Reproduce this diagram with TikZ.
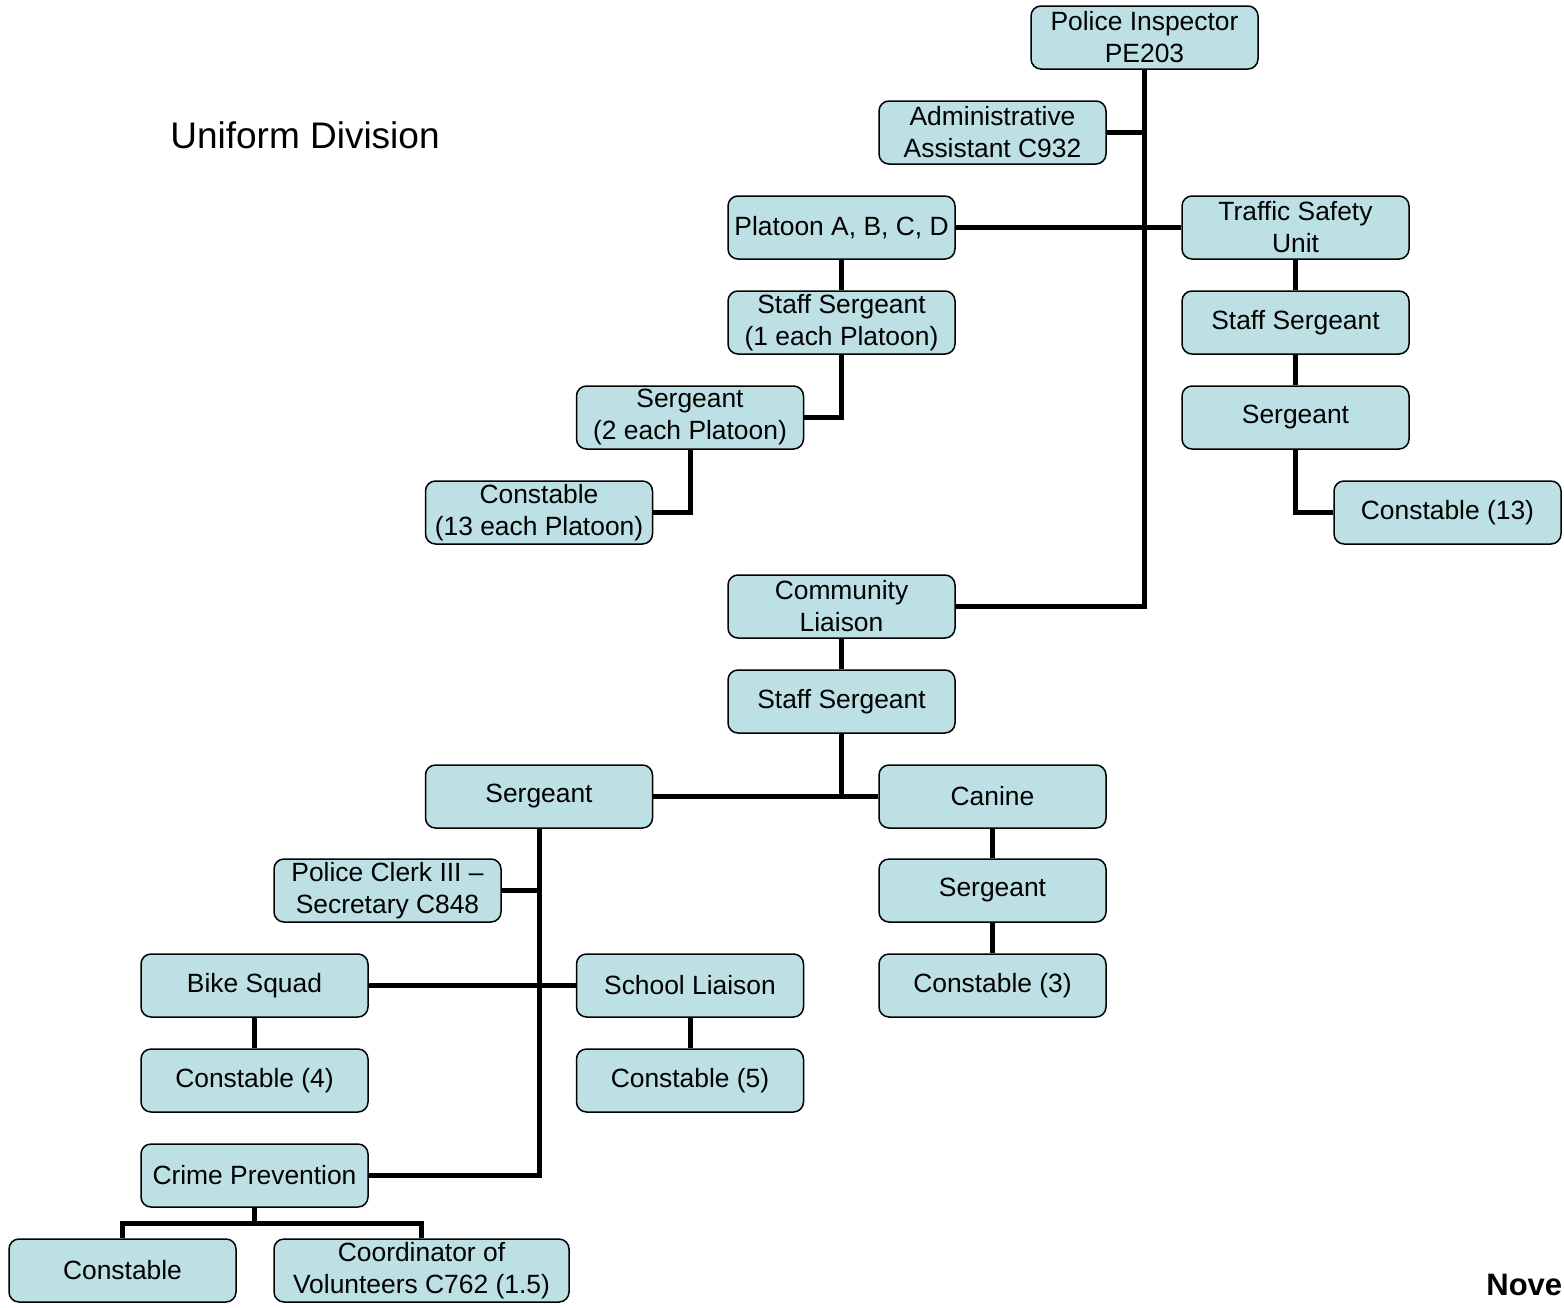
\documentclass[tikz,border=0pt]{standalone}
\usepackage{fontspec}
\setmainfont{Liberation Sans}
\definecolor{boxblue}{RGB}{188,224,228}
\begin{document}
\begin{tikzpicture}[x=0.5pt,y=-0.5pt,
  post/.style={draw=black,line width=0.75pt,fill=boxblue,rounded corners=5pt,
    minimum width=113.5pt,minimum height=31.5pt,inner sep=1pt,align=center,
    font=\fontsize{13.2}{16}\selectfont},
  link/.style={line width=2.5pt}]
\useasboundingbox (0,0) rectangle (1564,1307);
% top of the division
\node[post] (insp) at (1144.5,37.5) {Police Inspector\\PE203};
\node[post] (admin) at (992.5,132.5) {Administrative\\Assistant C932};
\node[post] (plat) at (841.5,227.5) {Platoon A, B, C, D};
\node[post] (traf) at (1295.5,227.5) {Traffic Safety\\Unit};
% platoons
\node[post] (plss) at (841.5,322.5) {Staff Sergeant\\(1 each Platoon)};
\node[post] (plsg) at (690,417.5) {Sergeant\\(2 each Platoon)};
\node[post] (plco) at (539,512.5) {Constable\\(13 each Platoon)};
% traffic
\node[post] (trss) at (1295.5,322.5) {Staff Sergeant};
\node[post] (trsg) at (1295.5,417.5) {Sergeant};
\node[post] (trco) at (1447.5,512.5) {Constable (13)};
% community
\node[post] (comm) at (841.5,606.5) {Community\\Liaison};
\node[post] (coss) at (841.5,701.5) {Staff Sergeant};
\node[post] (cosg) at (539,796.5) {Sergeant};
\node[post] (cani) at (992.5,796.5) {Canine};
\node[post] (casg) at (992.5,890.5) {Sergeant};
\node[post] (caco) at (992.5,985.5) {Constable (3)};
\node[post] (clerk) at (387.5,890.5) {Police Clerk III --\\Secretary C848};
\node[post] (bike) at (254.5,985.5) {Bike Squad};
\node[post] (scho) at (690,985.5) {School Liaison};
\node[post] (bico) at (254.5,1080.5) {Constable (4)};
\node[post] (scco) at (690,1080.5) {Constable (5)};
\node[post] (crim) at (254.5,1175.5) {Crime Prevention};
\node[post] (crco) at (122.5,1270.5) {Constable};
\node[post,minimum width=147.5pt] (volu) at (421.5,1270.5) {Coordinator of\\Volunteers C762 (1.5)};
\coordinate (crjoin) at (254.5,1223);
% titles
\node[font=\fontsize{18.5}{22}\selectfont] (title) at (305,135) {Uniform Division};
\node[font=\bfseries\fontsize{15.5}{18}\selectfont,anchor=base west,inner sep=0pt] (date) at (1486,1295) {Nove};
% lines
\draw[link] (insp.south) |- (comm.east);
\draw[link] (admin.east) -- (admin.east -| insp.south);
\draw[link] (plat.east) -- (traf.west);
\draw[link] (plat.south) -- (plss.north);
\draw[link] (plss.south) |- (plsg.east);
\draw[link] (plsg.south) |- (plco.east);
\draw[link] (traf.south) -- (trss.north);
\draw[link] (trss.south) -- (trsg.north);
\draw[link] (trsg.south) |- (trco.west);
\draw[link] (comm.south) -- (coss.north);
\draw[link] (coss.south) -- (coss.south |- cosg.east);
\draw[link] (cosg.east) -- (cani.west);
\draw[link] (cani.south) -- (casg.north);
\draw[link] (casg.south) -- (caco.north);
\draw[link] (cosg.south) |- (crim.east);
\draw[link] (clerk.east) -- (clerk.east -| cosg.south);
\draw[link] (bike.east) -- (scho.west);
\draw[link] (bike.south) -- (bico.north);
\draw[link] (scho.south) -- (scco.north);
\draw[link] (crim.south) -- (crjoin);
\draw[link] (crco.north) |- (crjoin) -| (volu.north);
\end{tikzpicture}
\end{document}
